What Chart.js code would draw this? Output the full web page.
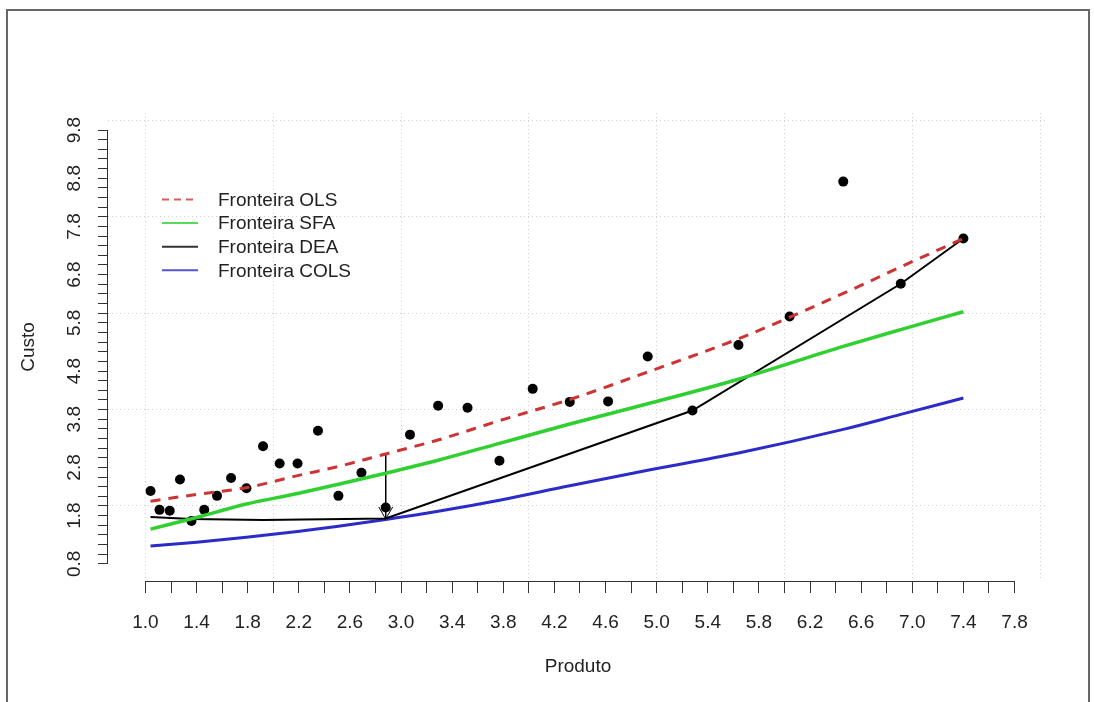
<!DOCTYPE html>
<html>
<head>
<meta charset="utf-8">
<script src="https://cdn.jsdelivr.net/npm/chart.js@4.4.1/dist/chart.umd.min.js"></script>
<style>
  html, body { margin: 0; padding: 0; background: #fff; }
  #wrap { position: relative; width: 1094px; height: 702px; overflow: hidden; }
  #frame { position: absolute; left: 6px; top: 9px; width: 1084px; height: 700px; border: 2px solid #666; border-bottom: none; box-sizing: border-box; }
  canvas { position: absolute; left: 0; top: 0; }
</style>
</head>
<body>
<div id="wrap">
  <canvas id="frontier_chart_area" width="1094" height="702"></canvas>
  <div id="frame"></div>
</div>
<script>
"use strict"
// firms: output (produto) and cost (custo)
var produto = [1.04, 1.11, 1.19, 1.27, 1.36, 1.46, 1.56, 1.67, 1.79, 1.92,
               2.05, 2.19, 2.35, 2.51, 2.69, 2.88, 3.07, 3.29, 3.52, 3.77,
               4.03, 4.32, 4.62, 4.93, 5.28, 5.64, 6.04, 6.46, 6.91, 7.40];
var custo = [2.31, 1.92, 1.90, 2.55, 1.69, 1.92, 2.21, 2.58, 2.37, 3.24,
             2.88, 2.88, 3.56, 2.21, 2.69, 1.97, 3.48, 4.08, 4.04, 2.94,
             4.43, 4.16, 4.17, 5.10, 3.98, 5.34, 5.93, 8.73, 6.61, 7.55];

// estimated frontiers
var fronteiraX    = [1.04, 1.40, 1.79, 2.19, 2.51, 2.88, 3.29, 3.77, 4.32, 4.93, 5.64, 6.46, 6.91, 7.40];
var fronteiraOLS  = [2.10, 2.24, 2.38, 2.63, 2.82, 3.08, 3.37, 3.77, 4.21, 4.78, 5.47, 6.41, 6.96, 7.55];
var fronteiraSFA  = [1.52, 1.76, 2.04, 2.26, 2.45, 2.68, 2.95, 3.30, 3.70, 4.12, 4.63, 5.31, 5.66, 6.03];
var fronteiraCOLS = [1.17, 1.25, 1.35, 1.47, 1.58, 1.72, 1.89, 2.12, 2.42, 2.74, 3.10, 3.59, 3.90, 4.24];
var deaX          = [1.04, 1.36, 1.92, 2.88, 5.28, 6.91, 7.40];
var fronteiraDEA  = [1.77, 1.73, 1.71, 1.74, 3.98, 6.61, 7.55];

// inefficiency of the firm at 2.88, from the OLS line down to the DEA frontier
var setaX = [2.88, 2.88];
var setaY = [3.07, 1.73];

var xTickLabels = ["1.0", "1.4", "1.8", "2.2", "2.6", "3.0", "3.4", "3.8", "4.2",
                   "4.6", "5.0", "5.4", "5.8", "6.2", "6.6", "7.0", "7.4", "7.8"];
var yTickLabels = ["0.8", "1.8", "2.8", "3.8", "4.8", "5.8", "6.8", "7.8", "8.8", "9.8"];
var xGridValues = [1, 2, 3, 4, 5, 6, 7, 8];
var yGridValues = [2, 4, 6, 8, 10];

var FONT = "'Liberation Sans', Arial, sans-serif";
var TEXT = "#222";

function pairs(xs, ys) {
    return xs.map(function(x, i){ return {x: x, y: ys[i]}; });
}

// every 0.2 between the first and last labelled tick
function axisTicks(labels) {
    var first = parseFloat(labels[0]), last = parseFloat(labels[labels.length - 1]);
    var out = [];
    for (var v = first; v <= last + 1e-9; v += 0.2) {
        out.push({value: Math.round(v * 10) / 10});
    }
    return out;
}

function labelFor(labels, value) {
    var s = Number(value).toFixed(1);
    return labels.indexOf(s) >= 0 ? s : '';
}

// axis lines spanning only first..last tick
var rAxes = {
    id: 'rAxes',
    afterDraw: function(chart){
        var ctx = chart.ctx, x = chart.scales.x, y = chart.scales.y, ca = chart.chartArea;
        ctx.save();
        ctx.strokeStyle = '#333';
        ctx.lineWidth = 1;
        ctx.beginPath();
        var yb = Math.round(ca.bottom) + 0.5;
        ctx.moveTo(x.getPixelForValue(parseFloat(xTickLabels[0])), yb);
        ctx.lineTo(x.getPixelForValue(parseFloat(xTickLabels[xTickLabels.length - 1])), yb);
        var xl = Math.round(ca.left) - 0.5;
        ctx.moveTo(xl, y.getPixelForValue(parseFloat(yTickLabels[0])));
        ctx.lineTo(xl, y.getPixelForValue(parseFloat(yTickLabels[yTickLabels.length - 1])));
        ctx.stroke();
        ctx.restore();
    }
};

// arrow head at the end of the arrow dataset
var arrowHead = {
    id: 'arrowHead',
    afterDatasetsDraw: function(chart){
        chart.data.datasets.forEach(function(ds, i){
            if (!ds.arrow) return;
            var pts = chart.getDatasetMeta(i).data;
            var a = pts[pts.length - 2], b = pts[pts.length - 1];
            var ang = Math.atan2(b.y - a.y, b.x - a.x), len = 14, spread = Math.PI / 6;
            var ctx = chart.ctx;
            ctx.save();
            ctx.strokeStyle = ds.borderColor;
            ctx.lineWidth = 1;
            ctx.beginPath();
            ctx.moveTo(b.x - len * Math.cos(ang - spread), b.y - len * Math.sin(ang - spread));
            ctx.lineTo(b.x, b.y);
            ctx.lineTo(b.x - len * Math.cos(ang + spread), b.y - len * Math.sin(ang + spread));
            ctx.stroke();
            ctx.restore();
        });
    }
};

// legend inside the plot, top left
var frontierLegend = {
    id: 'frontierLegend',
    afterDraw: function(chart){
        var ctx = chart.ctx, ca = chart.chartArea;
        var x0 = ca.left + 54, y0 = ca.top + 86.5, row = 23.6;
        var k = 0;
        ctx.save();
        ctx.font = '19px ' + FONT;
        ctx.textBaseline = 'middle';
        chart.data.datasets.forEach(function(ds){
            if (!ds.label) return;
            var yy = y0 + k * row;
            ctx.strokeStyle = ds.borderColor;
            ctx.lineWidth = 2;
            ctx.setLineDash(ds.borderDash ? [7, 5] : []);
            ctx.globalAlpha = 0.8;
            ctx.beginPath();
            ctx.moveTo(x0, yy);
            ctx.lineTo(x0 + 36, yy);
            ctx.stroke();
            ctx.globalAlpha = 1;
            ctx.setLineDash([]);
            ctx.fillStyle = TEXT;
            ctx.fillText(ds.label, x0 + 56, yy + 1);
            k++;
        });
        ctx.restore();
    }
};

var frontierChartArea = document.getElementById("frontier_chart_area");
var frontierChart = new Chart(frontierChartArea, {
    type: 'scatter',
    data: {
        datasets: [
            {
                type: 'line',
                label: "Fronteira OLS",
                data: pairs(fronteiraX, fronteiraOLS),
                borderColor: "#cd3333",
                borderWidth: 3,
                borderDash: [10, 8],
                pointRadius: 0,
                cubicInterpolationMode: 'monotone',
                fill: false
            },
            {
                type: 'line',
                label: "Fronteira SFA",
                data: pairs(fronteiraX, fronteiraSFA),
                borderColor: "#2fd02f",
                borderWidth: 3.5,
                pointRadius: 0,
                cubicInterpolationMode: 'monotone',
                fill: false
            },
            {
                type: 'line',
                label: "Fronteira DEA",
                data: pairs(deaX, fronteiraDEA),
                borderColor: "#000000",
                borderWidth: 2,
                pointRadius: 0,
                tension: 0,
                fill: false
            },
            {
                type: 'line',
                label: "Fronteira COLS",
                data: pairs(fronteiraX, fronteiraCOLS),
                borderColor: "#2b2bc8",
                borderWidth: 3,
                pointRadius: 0,
                cubicInterpolationMode: 'monotone',
                fill: false
            },
            {
                type: 'line',
                arrow: true,
                data: pairs(setaX, setaY),
                borderColor: "#000000",
                borderWidth: 1,
                pointRadius: 0,
                fill: false
            },
            {
                type: 'scatter',
                data: pairs(produto, custo),
                backgroundColor: "#000000",
                borderColor: "#000000",
                borderWidth: 0,
                pointRadius: 5
            }
        ]
    },
    options: {
        responsive: false,
        animation: false,
        events: [],
        layout: { padding: { left: 0, top: 113, right: 46, bottom: 0 } },
        plugins: { legend: { display: false }, tooltip: { enabled: false } },
        scales: {
            x: {
                type: 'linear', position: 'bottom', min: 0.707, max: 8.062, bounds: 'data',
                afterBuildTicks: function(scale){ scale.ticks = axisTicks(xTickLabels); },
                afterFit: function(scale){ scale.height = 121; },
                grid: { drawOnChartArea: false, drawTicks: true, tickLength: 12, color: '#333', lineWidth: 1 },
                border: { display: false },
                ticks: {
                    autoSkip: false, maxRotation: 0, minRotation: 0, padding: 18, color: TEXT,
                    font: { family: FONT, size: 19 },
                    callback: function(v){ return labelFor(xTickLabels, v); }
                },
                title: { display: true, text: 'Produto', color: TEXT, font: { family: FONT, size: 19 }, padding: { top: 0, bottom: 23.6 } }
            },
            xg: {
                type: 'linear', position: 'bottom', min: 0.707, max: 8.062, bounds: 'data',
                afterBuildTicks: function(scale){ scale.ticks = xGridValues.map(function(v){ return {value: v}; }); },
                afterFit: function(scale){ scale.height = 0; },
                ticks: { display: false },
                grid: { drawTicks: false, color: '#cfcfcf', lineWidth: 1 },
                border: { display: false, dash: [1, 3] }
            },
            y: {
                type: 'linear', position: 'left', min: 0.444, max: 10.153, bounds: 'data',
                afterBuildTicks: function(scale){ scale.ticks = axisTicks(yTickLabels); },
                afterFit: function(scale){ scale.width = 108; },
                grid: { drawOnChartArea: false, drawTicks: true, tickLength: 10, color: '#333', lineWidth: 1 },
                border: { display: false },
                ticks: {
                    autoSkip: false, minRotation: 90, maxRotation: 90, crossAlign: 'center', padding: 10, color: TEXT,
                    font: { family: FONT, size: 19 },
                    callback: function(v){ return labelFor(yTickLabels, v); }
                },
                title: { display: true, text: 'Custo', color: TEXT, font: { family: FONT, size: 19 }, padding: { top: 17, bottom: 0 } }
            },
            yg: {
                type: 'linear', position: 'left', min: 0.444, max: 10.153, bounds: 'data',
                afterBuildTicks: function(scale){ scale.ticks = yGridValues.map(function(v){ return {value: v}; }); },
                afterFit: function(scale){ scale.width = 0; },
                ticks: { display: false },
                grid: { drawTicks: false, color: '#cfcfcf', lineWidth: 1 },
                border: { display: false, dash: [1, 3] }
            }
        }
    },
    plugins: [rAxes, arrowHead, frontierLegend]
});
</script>
</body>
</html>
